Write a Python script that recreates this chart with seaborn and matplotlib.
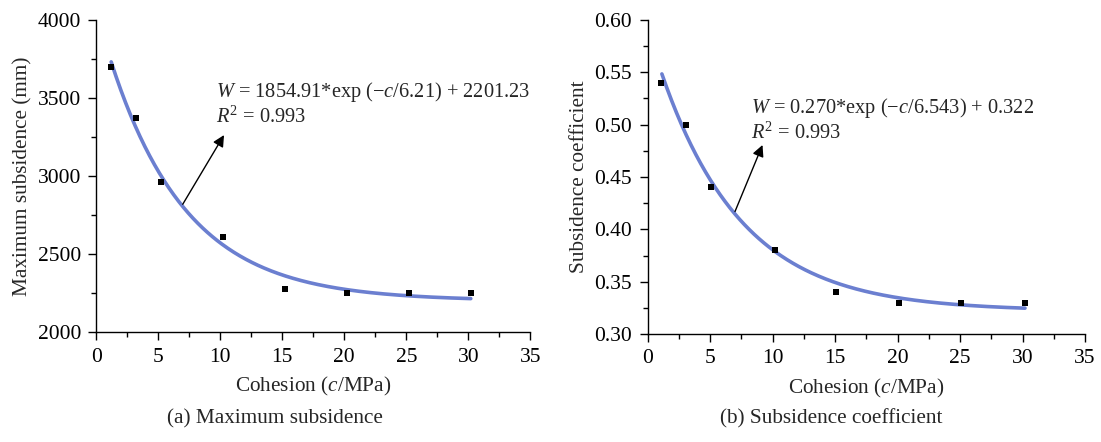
import numpy as np
import pandas as pd
import matplotlib
matplotlib.use("Agg")
import matplotlib.pyplot as plt
from matplotlib.ticker import MultipleLocator
import seaborn as sns

# ---------------- data ----------------
cohesion_a = [1.2, 3.2, 5.2, 10.2, 15.2, 20.2, 25.2, 30.2]
max_subsidence = [3700, 3370, 2960, 2610, 2280, 2250, 2250, 2250]

cohesion_b = [1.1, 3.1, 5.1, 10.2, 15.1, 20.1, 25.1, 30.2]
subsidence_coef = [0.54, 0.50, 0.44, 0.38, 0.34, 0.33, 0.33, 0.33]

# fitted model parameters as printed on the chart: W = A*exp(-c/t) + y0
fit_a = [1854.91, 6.21, 2201.23]
fit_b = [0.270, 6.543, 0.322]
fit_range_a = [1.2, 30.2]
fit_range_b = [1.15, 30.2]

eq_a = [r"$\mathit{W}$ = 1854.91*exp ($-\mathit{c}$/6.21) + 2201.23", r"$\mathit{R}^2$ = 0.993"]
eq_b = [r"$\mathit{W}$ = 0.270*exp ($-\mathit{c}$/6.543) + 0.322", r"$\mathit{R}^2$ = 0.993"]

xlabel = r"Cohesion ($\mathit{c}$/MPa)"
ylabel_a = "Maximum subsidence (mm)"
ylabel_b = "Subsidence coefficient"
caption_a = "(a) Maximum subsidence"
caption_b = "(b) Subsidence coefficient"

# ---------------- style ----------------
sns.set_style("ticks")
plt.rcParams["font.family"] = ["Liberation Serif", "DejaVu Serif"]
plt.rcParams["mathtext.fontset"] = "custom"
plt.rcParams["mathtext.rm"] = "Liberation Serif"
plt.rcParams["mathtext.it"] = "Liberation Serif:italic"
plt.rcParams["mathtext.bf"] = "Liberation Serif:bold"

LINE_COLOR = "#6b7fd0"
FS_TICK = 15.5
FS_LABEL = 15.3
FS_EQ = 14.7

fig = plt.figure(figsize=(11.01, 4.42), dpi=100)
ax_a = fig.add_axes([96.3 / 1101, 1 - 332.3 / 442, (530.3 - 96.3) / 1101, (332.3 - 19.7) / 442])
ax_b = fig.add_axes([647.5 / 1101, 1 - 334 / 442, (1085 - 647.5) / 1101, (334 - 20) / 442])


def fit_curve(params, rng):
    A, t, y0 = params
    c = np.linspace(rng[0], rng[1], 300)
    return pd.DataFrame({"c": c, "W": A * np.exp(-c / t) + y0})


def draw(ax, xs, ys, params, rng, ylim, ymajor, yminor, yfmt, eq, txt_xy, tail, head, ylabel):
    curve = fit_curve(params, rng)
    sns.lineplot(data=curve, x="c", y="W", ax=ax, color=LINE_COLOR, lw=2.6, zorder=2)
    pts = pd.DataFrame({"c": xs, "W": ys})
    sns.scatterplot(data=pts, x="c", y="W", ax=ax, marker="s", color="black",
                    s=15, linewidth=0, zorder=3)
    ax.set_xlim(0, 35)
    ax.set_ylim(*ylim)
    ax.xaxis.set_major_locator(MultipleLocator(5))
    ax.xaxis.set_minor_locator(MultipleLocator(2.5))
    ax.yaxis.set_major_locator(MultipleLocator(ymajor))
    ax.yaxis.set_minor_locator(MultipleLocator(yminor))
    ax.yaxis.set_major_formatter(yfmt)
    sns.despine(ax=ax)
    for sp in ("left", "bottom"):
        ax.spines[sp].set_linewidth(1.0)
        ax.spines[sp].set_color("black")
    ax.tick_params(which="major", direction="out", length=6, width=1, labelsize=FS_TICK,
                   colors="black")
    ax.tick_params(axis="y", which="major", pad=5)
    ax.tick_params(axis="x", which="major", pad=5)
    ax.tick_params(which="minor", direction="out", length=3.5, width=1, colors="black")
    ax.set_xlabel(xlabel, fontsize=FS_LABEL, labelpad=6)
    ax.set_ylabel(ylabel, fontsize=FS_LABEL, labelpad=4)
    ax.text(txt_xy[0], txt_xy[1], eq[0] + "\n" + eq[1], fontsize=FS_EQ, ha="left", va="center",
            linespacing=1.15)
    ax.annotate("", xy=head, xytext=tail,
                arrowprops=dict(arrowstyle="-|>", color="black", lw=1.0, mutation_scale=17,
                                shrinkA=0, shrinkB=0))


draw(ax_a, cohesion_a, max_subsidence, fit_a, fit_range_a, (2000, 4000), 500, 250,
     lambda v, p: f"{v:.0f}", eq_a, (9.65, 3462), (6.97, 2819), (10.3, 3262), ylabel_a)
draw(ax_b, cohesion_b, subsidence_coef, fit_b, fit_range_b, (0.30, 0.60), 0.05, 0.025,
     lambda v, p: f"{v:.2f}", eq_b, (8.3, 0.5045), (7.0, 0.417), (9.2, 0.4806), ylabel_b)

fig.text(275 / 1101, 1 - 419 / 442, caption_a, ha="center", va="center", fontsize=FS_LABEL)
fig.text(831 / 1101, 1 - 419 / 442, caption_b, ha="center", va="center", fontsize=FS_LABEL)

fig.savefig("out.png", dpi=100)
